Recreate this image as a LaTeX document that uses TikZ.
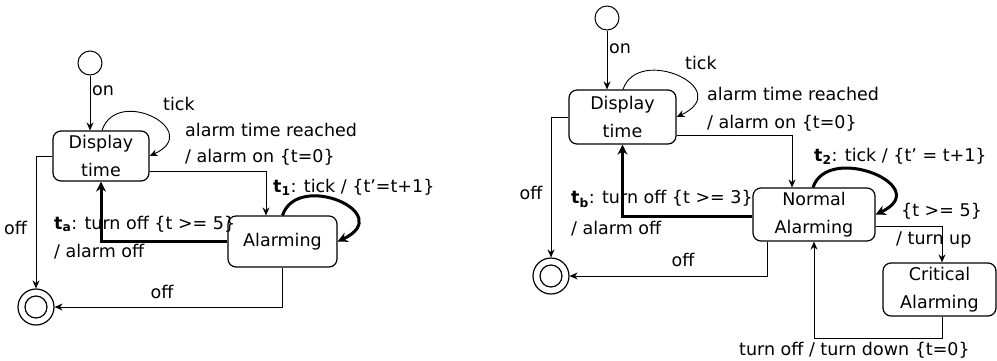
\documentclass[tikz,border=0pt]{standalone}
\usepackage{fontspec}
\setmainfont{DejaVu Sans}
\usepackage{tikz}
\usetikzlibrary{arrows.meta}

\begin{document}
\begin{tikzpicture}[
    x=1pt, y=-1pt,
    every node/.style={font=\fontsize{17.5}{28}\selectfont},
    state/.style={rectangle, draw, rounded corners=8pt, line width=1.2pt, align=center, inner sep=0pt},
    init/.style={circle, draw, line width=1pt, minimum size=24pt, inner sep=0pt},
    final/.style={circle, draw, line width=1.2pt, minimum size=36pt, inner sep=0pt,
        path picture={\draw[line width=1.2pt] (path picture bounding box.center) circle (11pt);}},
    arrow/.style={-{Stealth[length=8pt,width=7pt]}, line width=0.9pt},
    bold/.style={-{Stealth[length=10pt,width=10pt]}, line width=3pt},
    lbl/.style={anchor=west, inner sep=0pt},
]
\useasboundingbox (0,0) rectangle (997,360);

% left chart
\node[init] (init1) at (90,63) {};
\node[state, minimum width=96pt, minimum height=50pt] (disp1) at (101,156) {Display\\time};
\node[state, minimum width=109pt, minimum height=51pt] (alarm1) at (282.5,241.5) {Alarming};
\node[final] (final1) at (36,307) {};

\draw[arrow] (init1) -- (init1 |- disp1.north);
\draw[arrow] ([xshift=1pt]disp1.north) .. controls +(15,-45) and +(55,-25) .. (disp1.east);
\draw[arrow] ([yshift=-15pt]disp1.east) -| ([xshift=-16.5pt]alarm1.north);
\draw[bold] (alarm1.north) .. controls +(15,-45) and +(60,-28) .. (alarm1.east);
\draw[bold] (alarm1.west) -| (disp1.south);
\draw[arrow] (disp1.west) -| (final1.north);
\draw[arrow] (alarm1.south) |- (final1.east);

\node[lbl] (on1) at (92,91) {on};
\node[lbl] (tick1) at (163,104) {tick};
\node[lbl] (reach1) at (185,130) {alarm time reached};
\node[lbl] (aon1) at (185,157) {/ alarm on \{t=0\}};
\node[lbl] (t1) at (273,187) {\textbf{t\textsubscript{1}}: tick / \{t'=t+1\}};
\node[lbl] (ta) at (54,224) {\textbf{t\textsubscript{a}}: turn off \{t >= 5\}};
\node[lbl] (aoff1) at (54,252) {/ alarm off};
\node[lbl] (offa1) at (4,228) {off};
\node[inner sep=0pt] (offb1) at (162,292) {off};

% right chart
\node[init] (init2) at (607,18) {};
\node[state, minimum width=107pt, minimum height=54pt] (disp2) at (622.5,117) {Display\\time};
\node[state, minimum width=122pt, minimum height=53pt] (norm2) at (814,214.5) {Normal\\Alarming};
\node[state, minimum width=113pt, minimum height=53pt] (crit2) at (939.5,289.5) {Critical\\Alarming};
\node[final] (final2) at (551,276) {};

\draw[arrow] (init2) -- (init2 |- disp2.north);
\draw[arrow] ([xshift=0.5pt]disp2.north) .. controls +(15,-45) and +(60,-28) .. (disp2.east);
\draw[arrow] ([yshift=-18pt]disp2.east) -| ([xshift=-22pt]norm2.north);
\draw[bold] ([xshift=-1pt]norm2.north) .. controls +(15,-45) and +(60,-28) .. (norm2.east);
\draw[arrow] ([yshift=-11.5pt]norm2.east) -| ([xshift=2.5pt]crit2.north);
\draw[arrow] ([xshift=2.5pt]crit2.south) -- ++(0,22) -| (norm2.south);
\draw[bold] ([yshift=-1.5pt]norm2.west) -| (disp2.south);
\draw[arrow] (disp2.west) -| (final2.north);
\draw[arrow] ([xshift=-47pt]norm2.south) |- (final2.east);

\node[lbl] (on2) at (609,49) {on};
\node[lbl] (tick2) at (685,63) {tick};
\node[lbl] (reach2) at (707,94) {alarm time reached};
\node[lbl] (aon2) at (707,123) {/ alarm on \{t=0\}};
\node[lbl] (t2) at (814,156) {\textbf{t\textsubscript{2}}: tick / \{t' = t+1\}};
\node[lbl] (ge2) at (901,211) {\{t >= 5\}};
\node[lbl] (up2) at (896,240) {/ turn up};
\node[lbl] (tb) at (571,199) {\textbf{t\textsubscript{b}}: turn off \{t >= 3\}};
\node[lbl] (aoff2) at (571,229) {/ alarm off};
\node[inner sep=0pt] (offa2) at (531,193) {off};
\node[inner sep=0pt] (offb2) at (683,260) {off};
\node[lbl] (down2) at (739,350) {turn off / turn down \{t=0\}};
\end{tikzpicture}
\end{document}
